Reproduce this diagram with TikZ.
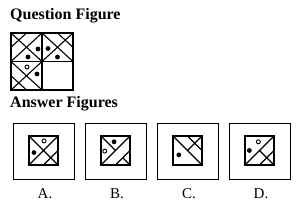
\documentclass[tikz,border=0pt]{standalone}
\usepackage{fontspec}
\setmainfont{Liberation Serif}
\begin{document}
\begin{tikzpicture}[x=1pt,y=-1pt,
  heading/.style={font=\fontsize{16}{18}\selectfont\bfseries,inner sep=0pt,anchor=base west},
  optlabel/.style={font=\fontsize{15}{17}\selectfont,inner sep=0pt,anchor=base},
  frame/.style={line width=0.9pt},
  tile/.style={line width=1.5pt},
  ln/.style={line width=1.1pt},
  hdot/.style={draw=black,fill=white,line width=0.9pt}]
  \useasboundingbox (0,0) rectangle (308,204);
  \node[heading] (qtitle) at (10,19.5) {Question Figure};
  % question figure: three filled quarters, one empty
  \draw[ln] (11,33)--(42,61.5) (42,33)--(11,61.5) (26.5,33)--(11,47.25)
    (42,33)--(73,61.5) (73,33)--(42,61.5) (57.5,33)--(73,47.25)
    (11,61.5)--(42,90) (42,61.5)--(11,90) (11,75.75)--(26.5,90);
  \draw[line width=1.4pt] (42,33)--(42,90) (11,61.5)--(73,61.5);
  \draw[line width=2.4pt] (11,33) rectangle (73,90);
  \fill (38,49) circle (2.4pt) (28,57) circle (2.4pt)
    (48,48.5) circle (2.4pt) (57.5,57) circle (2.4pt) (37,74) circle (2.4pt);
  \draw[hdot] (27,67) circle (2pt);
  \node[heading] (atitle) at (10,107) {Answer Figures};
  % answer figures
  \foreach \x/\l in {13/A,85/B,157/C,229/D}{
    \draw[frame] (\x,123) rectangle ++(61,56);
    \draw[tile] (\x+16,136) rectangle ++(29,29);
    \node[optlabel] (lab\l) at (\x+32,198) {\l.};
  }
  \begin{scope}[shift={(29,136)},x=29pt,y=-29pt]
    \draw[ln] (0,0)--(1,1) (1,0)--(0,1) (1,.5)--(.5,1);
    \draw[hdot] (.52,.17) circle (2pt);
    \fill (.17,.57) circle (2.4pt);
  \end{scope}
  \begin{scope}[shift={(101,136)},x=29pt,y=-29pt]
    \draw[ln] (0,0)--(.5,.5) (1,0)--(0,1) (1,.5)--(.5,1) (.75,.75)--(1,1);
    \fill (.45,.2) circle (2.4pt);
    \draw[hdot] (.13,.52) circle (2pt);
  \end{scope}
  \begin{scope}[shift={(173,136)},x=29pt,y=-29pt]
    \draw[ln] (0,0)--(1,1) (1,0)--(.5,.5) (.5,0)--(1,.5);
    \fill (.2,.65) circle (2.4pt);
  \end{scope}
  \begin{scope}[shift={(245,136)},x=29pt,y=-29pt]
    \draw[ln] (1,0)--(0,1) (.5,.5)--(1,1) (1,.5)--(.5,1);
    \draw[hdot] (.46,.2) circle (2pt);
    \fill (.15,.5) circle (2.4pt);
  \end{scope}
\end{tikzpicture}
\end{document}
